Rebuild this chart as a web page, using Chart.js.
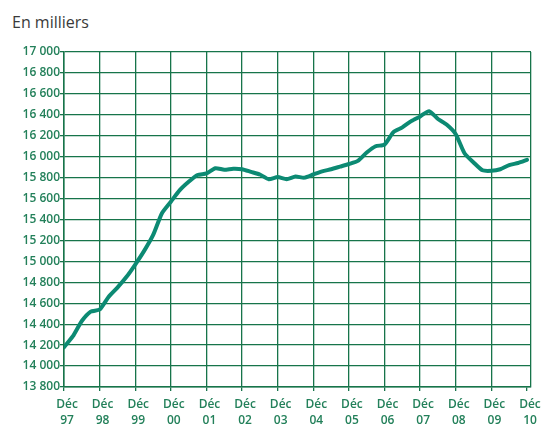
<!DOCTYPE html>
<html>
<head>
<meta charset="utf-8">
<script src="https://cdn.jsdelivr.net/npm/chart.js@4"></script>
<style>
  html, body { margin: 0; padding: 0; background: #fff; }
  #wrap { position: relative; width: 542px; height: 425px; }
  #title { position: absolute; left: 12px; top: 11px; font: 16px "Open Sans", sans-serif; color: #3a3a3a; }
  canvas { position: absolute; left: 0; top: 0; }
</style>
</head>
<body>
<div id="wrap">
  <div id="title">En milliers</div>
  <canvas id="chart" width="542" height="425"></canvas>
</div>
<script>
// Year labels, one tick every December
const years = ['97', '98', '99', '00', '01', '02', '03', '04', '05', '06', '07', '08', '09', '10'];

// Quarterly values (thousands), Déc 97 to Déc 10
const values = [
  14180, 14285, 14430, 14520,
  14540, 14660, 14750, 14850,
  14970, 15100, 15250, 15460,
  15570, 15680, 15760, 15825,
  15840, 15890, 15875, 15885,
  15880, 15855, 15830, 15785,
  15805, 15785, 15810, 15800,
  15830, 15860, 15880, 15905,
  15930, 15960, 16040, 16100,
  16115, 16235, 16280, 16340,
  16385, 16435, 16360, 16305,
  16215, 16030, 15945, 15870,
  15865, 15880, 15920, 15940,
  15970
];

const green = '#17744a';
const labelColor = '#23805a';
const tickFont = { family: 'Open Sans', size: 12, weight: '600', lineHeight: 1.3 };
const lastTick = (years.length - 1) * 4;
const xMax = lastTick + 0.45;

const ctx = document.getElementById('chart').getContext('2d');
const chart = new Chart(ctx, {
  type: 'line',
  data: {
    datasets: [{
      data: values.map((v, i) => ({ x: i, y: v })),
      borderColor: '#0c8a73',
      borderWidth: 4,
      pointRadius: 0,
      tension: 0.2,
      borderCapStyle: 'round',
      borderJoinStyle: 'round'
    }]
  },
  options: {
    responsive: false,
    animation: false,
    layout: { padding: { top: 52, right: 11, left: 0, bottom: 0 } },
    plugins: { legend: { display: false }, tooltip: { enabled: false } },
    scales: {
      x: {
        type: 'linear',
        min: 0,
        max: xMax,
        afterBuildTicks: (scale) => {
          const t = years.map((_, i) => ({ value: i * 4 }));
          t.push({ value: xMax });
          scale.ticks = t;
        },
        afterFit: (scale) => { scale.height = 38; },
        grid: {
          color: (c) => (c.tick && c.tick.value === lastTick) ? 'rgba(0,0,0,0)' : green,
          tickColor: (c) => (c.tick && c.tick.value === xMax) ? 'rgba(0,0,0,0)' : green,
          lineWidth: 1.3,
          tickLength: 4
        },
        border: { color: green, width: 1.5 },
        ticks: {
          autoSkip: false,
          maxRotation: 0,
          padding: 6,
          labelOffset: 3,
          color: labelColor,
          font: tickFont,
          callback: (v, i) => i < years.length ? ['Déc', years[i]] : ''
        }
      },
      y: {
        min: 13800,
        max: 17000,
        afterFit: (scale) => { scale.width = 64; },
        grid: { color: green, lineWidth: 1.3, tickLength: 4 },
        border: { color: green, width: 1.5 },
        ticks: {
          stepSize: 200,
          padding: 0,
          color: labelColor,
          font: tickFont,
          callback: (v) => String(v).replace(/\B(?=(\d{3})+(?!\d))/g, ' ')
        }
      }
    }
  }
});
</script>
</body>
</html>
